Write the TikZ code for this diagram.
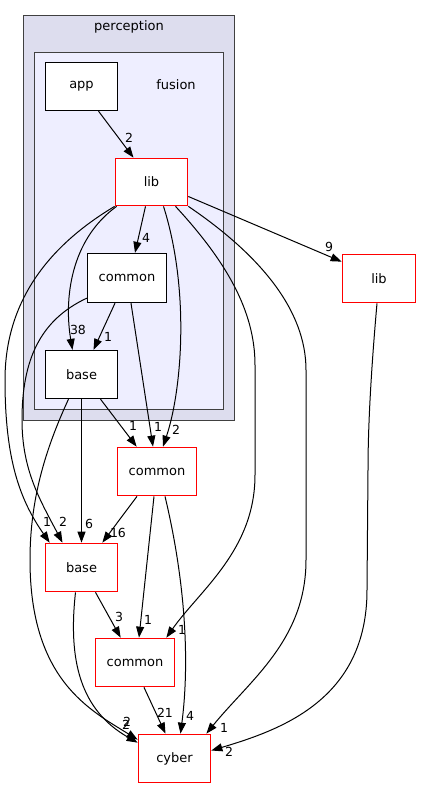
\documentclass[tikz,border=0pt]{standalone}
\usepackage{fontspec}
\setmainfont{DejaVu Sans}
\usetikzlibrary{arrows.meta,calc}
\definecolor{clperc}{HTML}{DDDDEE}
\definecolor{clfus}{HTML}{EEEEFF}
\definecolor{clborder}{HTML}{404040}
\definecolor{redb}{HTML}{FF0000}
\tikzset{
  box/.style={draw=black,fill=white,line width=1.3pt,minimum width=72pt,minimum height=48pt,inner sep=0pt,font=\fontsize{13}{15}\selectfont},
  rbox/.style={box,draw=redb,line width=1.7pt},
  wide/.style={minimum width=79pt},
  lbl/.style={inner sep=0pt,font=\fontsize{12.5}{14}\selectfont},
  cltitle/.style={inner sep=0pt,font=\fontsize{13}{15}\selectfont},
  edge/.style={draw=black,line width=1pt,-{Triangle[length=11pt,width=8pt]}}
}
\begin{document}
\begin{tikzpicture}[x=1pt,y=-1pt]
\fill[white] (0,0) rectangle (421,788);
\useasboundingbox (0,0) rectangle (421,788);
% clusters
\draw[fill=clperc,draw=clborder,line width=1.3pt] (23.5,15.5) rectangle (234.5,420.5);
\node[cltitle] (tperc) at (129,27) {perception};
\draw[fill=clfus,draw=clborder,line width=1.3pt] (34.5,52.5) rectangle (223.5,409.5);
\node[cltitle] (tfus) at (176,85) {fusion};
% nodes
\node[box] (app) at (81.5,86.5) {app};
\node[rbox,minimum height=47pt] (libF) at (151.5,182) {lib};
\node[box,wide,minimum height=49pt] (comF) at (127,278) {common};
\node[box] (baseF) at (81.5,374.5) {base};
\node[rbox,minimum width=73pt] (libO) at (379,278.5) {lib};
\node[rbox,wide] (comP) at (157,471.5) {common};
\node[rbox] (baseO) at (81.5,567.5) {base};
\node[rbox,wide] (comB) at (135,662.5) {common};
\node[rbox] (cyber) at (174.5,758.5) {cyber};
% edges
\draw[edge] ($(app.south)+(17,0)$) -- ($(libF.north)+(-18,0)$);
\node[lbl] (l1) at (129,138) {2};
\draw[edge] ($(libF.south)+(-6,0)$) -- ($(comF.north)+(8,0)$);
\node[lbl] (l2) at (146,238) {4};
\draw[edge] ($(libF.south west)+(2,0)$) .. controls (70,240) and (64,300) .. ($(baseF.north)+(-9,0)$);
\node[lbl] (l3) at (78,330) {38};
\draw[edge] (libF.south west) .. controls (50,245) and (5,300) .. (5,380) .. controls (5,460) and (20,500) .. ($(baseO.north west)+(5,0)$);
\node[lbl] (l4) at (47,522) {1};
\draw[edge] ($(comF.south west)+(0,-5)$) .. controls (40,320) and (22,360) .. (22,420) .. controls (22,470) and (40,500) .. ($(baseO.north)+(-19,0)$);
\node[lbl] (l5) at (63,522) {2};
\draw[edge] ($(comF.south)+(-12,0)$) -- ($(baseF.north)+(12,0)$);
\node[lbl] (l6) at (108,337) {1};
\draw[edge] ($(comF.south)+(4,0)$) -- ($(comP.north)+(-4,0)$);
\node[lbl] (l7) at (158,427) {1};
\draw[edge] ($(libF.south)+(12,0)$) .. controls (190,290) and (182,390) .. ($(comP.north)+(6,0)$);
\node[lbl] (l8) at (176,430) {2};
\draw[edge] ($(baseF.south)+(19,0)$) -- ($(comP.north west)+(20,0)$);
\node[lbl] (l9) at (133,426) {1};
\draw[edge] (baseF.south) -- (baseO.north);
\node[lbl] (l10) at (89,524) {6};
\draw[edge] ($(baseF.south)+(-13,0)$) .. controls (45,450) and (30,500) .. (30,560) .. controls (30,680) and (90,710) .. ($(cyber.north west)+(0,6)$);
\node[lbl] (l11) at (127,722) {2};
\draw[edge] ($(libF.south)+(24,0)$) .. controls (225,260) and (255,310) .. (255,365) -- (255,475) .. controls (255,550) and (200,590) .. ($(comB.north east)+(-9,0)$);
\node[lbl] (l12) at (182,630) {1};
\draw[edge] (libF.south east) .. controls (260,255) and (306,310) .. (306,370) -- (306,560) .. controls (306,640) and (250,680) .. ($(cyber.north east)+(-5,0)$);
\node[lbl] (l13) at (224,728) {1};
\draw[edge] ($(libF.east)+(0,14.5)$) -- ($(libO.north west)+(0,8)$);
\node[lbl] (l14) at (329,247) {9};
\draw[edge] ($(comP.south)+(-20,0)$) -- ($(baseO.north east)+(-16,0)$);
\node[lbl] (l15) at (118,533) {16};
\draw[edge] ($(comP.south)+(-3,0)$) -- ($(comB.north)+(4,0)$);
\node[lbl] (l16) at (148,620) {1};
\draw[edge] ($(comP.south)+(8,0)$) .. controls (185,580) and (190,660) .. ($(cyber.north)+(6,0)$);
\node[lbl] (l17) at (190,716) {4};
\draw[edge] ($(baseO.south)+(14,0)$) -- ($(comB.north west)+(26,0)$);
\node[lbl] (l18) at (119,617) {3};
\draw[edge] ($(baseO.south)+(-6,0)$) .. controls (68,660) and (80,710) .. ($(cyber.north west)+(0,9)$);
\node[lbl] (l19) at (126,725) {2};
\draw[edge] ($(comB.south)+(9,0)$) -- ($(cyber.north)+(-9,0)$);
\node[lbl] (l20) at (165,713) {21};
\draw[edge] ($(libO.south)+(-2,0)$) .. controls (372,360) and (368,420) .. (368,470) -- (367,590) .. controls (367,700) and (280,730) .. ($(cyber.east)+(0,-8)$);
\node[lbl] (l21) at (229,752) {2};
\end{tikzpicture}
\end{document}
